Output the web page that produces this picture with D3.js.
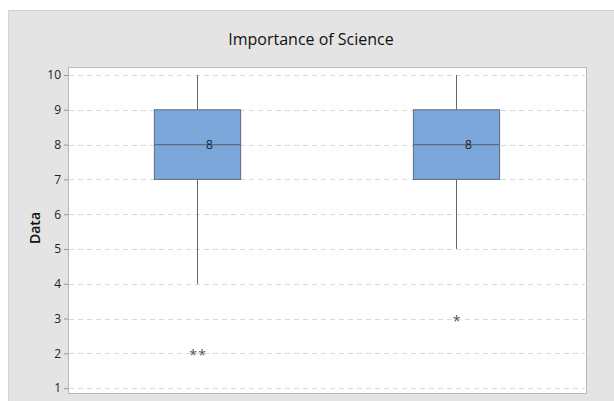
<!DOCTYPE html>
<html><head><meta charset="utf-8">
<script src="https://cdn.jsdelivr.net/npm/d3@7"></script>
<style>body{margin:0;background:#fff;}svg{display:block;font-family:"Open Sans","Noto Sans",sans-serif;}</style>
</head><body><svg id="c" width="614" height="401"></svg>
<script>
const categories = ["A", "B"];
const q1 = [7, 7];
const medians = [8, 8];
const q3 = [9, 9];
const whiskerLow = [4, 5];
const whiskerHigh = [10, 10];
const outliers = [[2, 2], [3]];
const yTicks = [1, 2, 3, 4, 5, 6, 7, 8, 9, 10];
const title = "Importance of Science";
const yLabel = "Data";

const svg = d3.select("#c");
svg.append("rect").attr("x", 8.5).attr("y", 10.5).attr("width", 606).attr("height", 391).attr("fill", "#e4e4e4")
  .attr("stroke", "#d2d2d2");
const L = 68, R = 586, T = 67, B = 393;
svg.append("rect").attr("x", L + 0.5).attr("y", T + 0.5).attr("width", R - L).attr("height", B - T)
  .attr("fill", "#fff").attr("stroke", "#b8b8b8").attr("stroke-width", 1);

const y = d3.scaleLinear().domain([0.86, 10.23]).range([B, T]);
const x = d3.scaleBand().domain(categories).range([L, R]).paddingInner(0).paddingOuter(0);

// gridlines
svg.append("g").selectAll("line").data(yTicks).join("line")
  .attr("x1", L + 1).attr("x2", R - 1)
  .attr("y1", d => Math.round(y(d)) + 0.5).attr("y2", d => Math.round(y(d)) + 0.5)
  .attr("stroke", "#d9d9d9").attr("stroke-dasharray", "5,4");

// y axis
const ax = svg.append("g").attr("transform", `translate(${L},0)`)
  .call(d3.axisLeft(y).tickValues(yTicks).tickSize(4).tickPadding(3).tickFormat(d3.format("d")));
ax.select(".domain").remove();
ax.selectAll(".tick line").attr("stroke", "#999");
ax.selectAll(".tick text").attr("font-size", 12).attr("fill", "#222").attr("font-weight", "500")
  .attr("font-family", "Open Sans, Noto Sans, sans-serif");

svg.append("text").attr("x", 311).attr("y", 45).attr("text-anchor", "middle")
  .attr("font-size", 16).attr("font-weight", "500").attr("fill", "#111").text(title);
svg.append("text").attr("transform", `translate(40,228) rotate(-90)`).attr("text-anchor", "middle")
  .attr("font-size", 14).attr("font-weight", "600").attr("fill", "#111").text(yLabel);

const bw = x.bandwidth() * 0.333;
categories.forEach((c, i) => {
  const cx = x(c) + x.bandwidth() / 2;
  const g = svg.append("g");
  g.append("line").attr("x1", cx).attr("x2", cx).attr("y1", y(whiskerHigh[i])).attr("y2", y(q3[i])).attr("stroke", "#666");
  g.append("line").attr("x1", cx).attr("x2", cx).attr("y1", y(q1[i])).attr("y2", y(whiskerLow[i])).attr("stroke", "#666");
  g.append("rect").attr("x", cx - bw / 2).attr("y", y(q3[i])).attr("width", bw).attr("height", y(q1[i]) - y(q3[i]))
    .attr("fill", "#7ba6da").attr("stroke", "#5b6b80").attr("stroke-width", 1);
  g.append("line").attr("x1", cx - bw / 2).attr("x2", cx + bw / 2).attr("y1", y(medians[i])).attr("y2", y(medians[i]))
    .attr("stroke", "#5b6b80").attr("stroke-width", 1.2);
  g.append("text").attr("x", cx + 12).attr("y", y(medians[i]) + 4).attr("text-anchor", "middle")
    .attr("font-size", 12).attr("fill", "#222").text(medians[i]);
  const n = outliers[i].length;
  outliers[i].forEach((v, k) => {
    g.append("text").attr("x", cx + (k - (n - 1) / 2) * 9).attr("y", y(v) + 7).attr("text-anchor", "middle")
      .attr("font-size", 14).attr("fill", "#555").text("*");
  });
});
</script></body></html>
